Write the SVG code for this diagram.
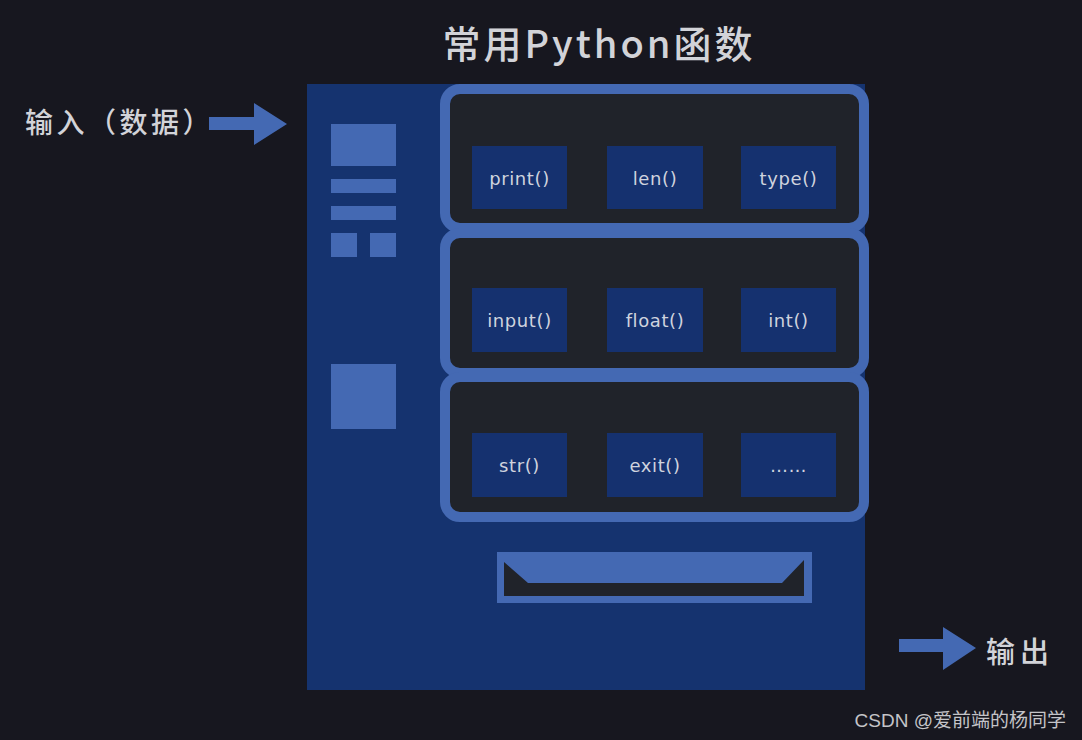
<svg xmlns="http://www.w3.org/2000/svg" width="1082" height="740" viewBox="0 0 1082 740">
<style>
.cjk{font-family:"Noto Sans CJK SC","Noto Sans",sans-serif;fill:#d2d3d8}
.lb{fill:#4469b3}
.panel{fill:#20232a;stroke:#4469b3;stroke-width:10}
.fn{fill:#15316f}
.fl{font-family:"DejaVu Sans","Liberation Sans",sans-serif;font-size:18px;fill:#cfd3de;text-anchor:middle;dominant-baseline:central;letter-spacing:0.6px}
</style>
<rect x="0" y="0" width="1082" height="740" fill="#17171f"/>
<text class="cjk" x="599" y="41" font-size="38" font-weight="500" text-anchor="middle" dominant-baseline="central" letter-spacing="3">常用Python函数</text>
<g id="machine">
<rect x="307" y="84" width="558" height="606" fill="#15336f"/>
<rect class="lb" x="331" y="124" width="65" height="42"/>
<rect class="lb" x="331" y="179" width="65" height="14"/>
<rect class="lb" x="331" y="206" width="65" height="14"/>
<rect class="lb" x="331" y="233" width="26" height="24"/>
<rect class="lb" x="370" y="233" width="26" height="24"/>
<rect class="lb" x="331" y="364" width="65" height="65"/>
</g>
<g id="panel1">
<rect class="panel" x="445" y="89" width="419" height="139" rx="15"/>
<rect class="fn" x="472" y="146" width="95" height="63"/><text class="fl" x="519.5" y="178">print()</text>
<rect class="fn" x="607" y="146" width="96" height="63"/><text class="fl" x="655" y="178">len()</text>
<rect class="fn" x="741" y="146" width="95" height="63"/><text class="fl" x="788.5" y="178">type()</text>
</g>
<g id="panel2">
<rect class="panel" x="445" y="233" width="419" height="140" rx="15"/>
<rect class="fn" x="472" y="288" width="95" height="64"/><text class="fl" x="519.5" y="320">input()</text>
<rect class="fn" x="607" y="288" width="96" height="64"/><text class="fl" x="655" y="320">float()</text>
<rect class="fn" x="741" y="288" width="95" height="64"/><text class="fl" x="788.5" y="320">int()</text>
</g>
<g id="panel3">
<rect class="panel" x="445" y="377" width="419" height="140" rx="15"/>
<rect class="fn" x="472" y="433" width="95" height="64"/><text class="fl" x="519.5" y="465">str()</text>
<rect class="fn" x="607" y="433" width="96" height="64"/><text class="fl" x="655" y="465">exit()</text>
<rect class="fn" x="741" y="433" width="95" height="64"/><text class="fl" x="788.5" y="465">……</text>
</g>
<g id="tray">
<rect class="lb" x="497" y="552" width="315" height="51"/>
<polygon fill="#20232a" points="504,562 528,583 782,583 804,560 804,596 504,596"/>
</g>
<g id="connectors">
<polygon class="lb" points="209,117 254,117 254,103 287,124 254,145 254,130 209,130"/>
<polygon class="lb" points="899,639 943,639 943,627 976,648 943,670 943,652 899,652"/>
</g>
<g id="labels">
<text class="cjk" x="25" y="121" font-size="28" font-weight="500" dominant-baseline="central" letter-spacing="3.5">输入（数据）</text>
<text class="cjk" x="986" y="650" font-size="29" font-weight="500" dominant-baseline="central" letter-spacing="5">输出</text>
<text x="1066" y="720" font-family="'Liberation Sans','Noto Sans CJK SC',sans-serif" font-size="19" fill="#c4c4c8" text-anchor="end" dominant-baseline="central">CSDN @爱前端的杨同学</text>
</g>
</svg>
